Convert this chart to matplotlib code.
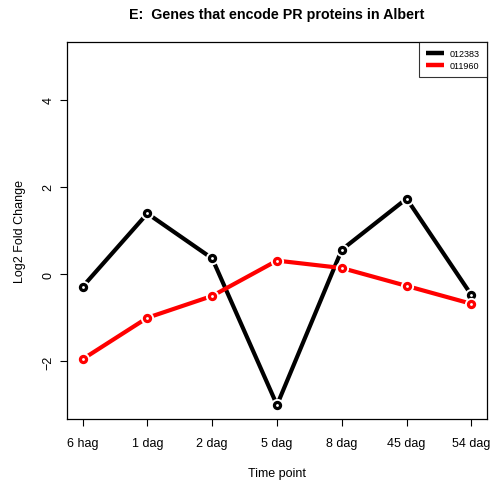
import matplotlib
matplotlib.use("Agg")
import matplotlib.pyplot as plt

plt.rcParams['font.family'] = ['Liberation Sans', 'DejaVu Sans']

time_labels = ["6 hag", "1 dag", "2 dag", "5 dag", "8 dag", "45 dag", "54 dag"]
gene_012383 = [-0.29, 1.39, 0.36, -3.0, 0.56, 1.73, -0.48]
gene_011960 = [-1.95, -1.0, -0.5, 0.31, 0.14, -0.27, -0.68]

x = list(range(1, len(time_labels) + 1))

fig = plt.figure(figsize=(4.92, 4.85), dpi=100)
ax = fig.add_axes([67 / 492, 65 / 485, 420 / 492, 377 / 485])

# type="b" style: line, white gap round each point, then open circle
z = 2
for vals, col, name in [(gene_012383, "black", "012383"), (gene_011960, "red", "011960")]:
    ax.plot(x, vals, color=col, lw=3.0, solid_capstyle="butt", label=name, zorder=z)
    ax.plot(x, vals, ls="none", marker="o", ms=9.5, mfc="white", mec="none", zorder=z + 0.1)
    ax.plot(x, vals, ls="none", marker="o", ms=4.4, mfc="white", mec=col, mew=2.3, zorder=z + 0.2)
    z += 1

ax.set_xlim(0.76, 7.24)
ax.set_ylim(-3.32, 5.32)
ax.set_xticks(x)
ax.set_xticklabels(time_labels, fontsize=9)
ax.set_yticks([-2, 0, 2, 4])
ax.set_yticklabels(["\u22122", "0", "2", "4"], fontsize=9, rotation=90, va="center")
ax.tick_params(axis="x", length=5, width=0.8, pad=8, direction="out")
ax.tick_params(axis="y", length=5, width=0.8, pad=4, direction="out")
for s in ax.spines.values():
    s.set_linewidth(0.9)

ax.set_xlabel("Time point", fontsize=9, labelpad=13)
ax.set_ylabel("Log2 Fold Change", fontsize=9, labelpad=12)
fig.text(277 / 492, 1 - 15 / 485, "E:  Genes that encode PR proteins in Albert",
         ha="center", va="center", fontsize=10.3, fontweight="bold")

leg = ax.legend(loc="upper right", fontsize=6.5, frameon=True, fancybox=False,
                edgecolor="black", borderaxespad=0, handlelength=2.0,
                handletextpad=0.6, borderpad=0.8, labelspacing=0.3)
leg.get_frame().set_linewidth(0.8)
for h in leg.get_lines():
    h.set_linewidth(3.2)

fig.savefig("out.png", dpi=100)
